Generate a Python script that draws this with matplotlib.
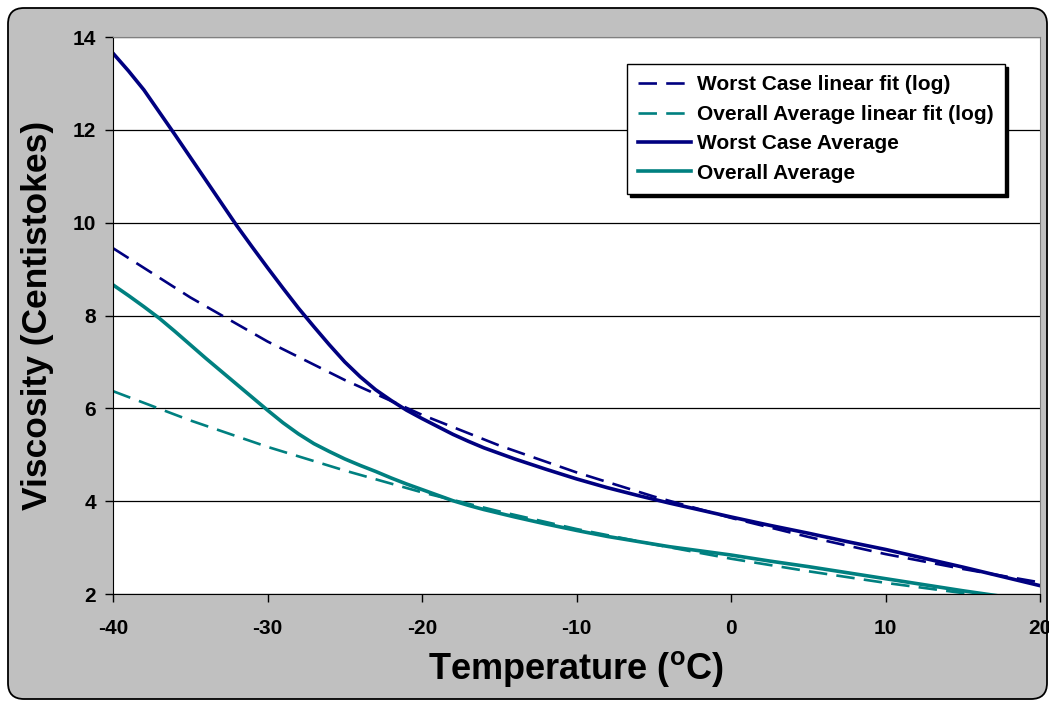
import matplotlib
matplotlib.use("Agg")
import matplotlib.pyplot as plt
from matplotlib.patches import FancyBboxPatch
from matplotlib.transforms import IdentityTransform

plt.rcParams['font.family'] = ['Liberation Sans', 'DejaVu Sans']
plt.rcParams['font.weight'] = 'bold'
plt.rcParams['axes.unicode_minus'] = False

# temperatures (deg C) and viscosities (cSt)
worst_t = [-40, -39, -38, -37, -36, -35, -34, -33, -32, -31, -30, -29, -28,
           -27, -26, -25, -24, -23, -22, -21, -20, -19, -18, -17, -16, -14,
           -12, -10, -8, -6, -4, -2, 0, 2.5, 5, 7.5, 10, 12.5, 15, 17.5, 20]
worst_avg = [13.65, 13.27, 12.86, 12.38, 11.9, 11.41, 10.92, 10.43, 9.94, 9.48,
             9.03, 8.59, 8.16, 7.76, 7.37, 7.0, 6.68, 6.4, 6.17, 5.96, 5.78,
             5.61, 5.44, 5.29, 5.15, 4.91, 4.69, 4.48, 4.29, 4.12, 3.96, 3.81,
             3.66, 3.48, 3.31, 3.13, 2.96, 2.77, 2.58, 2.38, 2.18]

overall_t = [-40, -39, -38, -37, -36, -35, -34, -33, -32, -31, -30, -29, -28,
             -27, -26, -25, -24, -23, -22, -21, -20, -19, -18, -17, -16, -14,
             -12, -10, -8, -6, -4, -2, 0, 2.5, 5, 7.5, 10, 12.5, 15, 17.5, 20]
overall_avg = [8.66, 8.43, 8.19, 7.94, 7.66, 7.37, 7.08, 6.8, 6.52, 6.24, 5.96,
               5.69, 5.45, 5.24, 5.07, 4.91, 4.77, 4.64, 4.5, 4.37, 4.25, 4.13,
               4.01, 3.91, 3.82, 3.66, 3.51, 3.37, 3.24, 3.13, 3.02, 2.93, 2.84,
               2.71, 2.59, 2.46, 2.33, 2.2, 2.07, 1.95, 1.83]

fit_t = [-40, -35, -30, -25, -20, -15, -10, -5, 0, 5, 10, 15, 20]
worst_fit = [9.45, 8.39, 7.44, 6.61, 5.86, 5.20, 4.62, 4.10, 3.64, 3.23,
             2.86, 2.54, 2.25]
overall_fit = [6.37, 5.74, 5.17, 4.66, 4.19, 3.78, 3.40, 3.07, 2.76, 2.49,
               2.24, 2.02, 1.82]

navy = '#000080'
teal = '#008080'

fig = plt.figure(figsize=(10.49, 7.02), dpi=100, facecolor='white')

# rounded grey chart area like the spreadsheet frame
frame = FancyBboxPatch((8, 3), 1039, 691, boxstyle='round,pad=0,rounding_size=16',
                       transform=IdentityTransform(), facecolor='#C0C0C0',
                       edgecolor='black', linewidth=1.3, zorder=-10)
fig.patches.append(frame)

ax = fig.add_axes([113 / 1049, 108 / 702, 927 / 1049, 557 / 702])
ax.set_facecolor('white')

l1, = ax.plot(fit_t, worst_fit, color=navy, lw=1.9, label='Worst Case linear fit (log)')
l2, = ax.plot(fit_t, overall_fit, color=teal, lw=1.9, label='Overall Average linear fit (log)')
for ln in (l1, l2):
    ln.set_dashes((7, 3.5))
ax.plot(worst_t, worst_avg, color=navy, lw=2.6, label='Worst Case Average')
ax.plot(overall_t, overall_avg, color=teal, lw=2.6, label='Overall Average')

ax.set_xlim(-40, 20)
ax.set_ylim(2, 14)
ax.set_xticks(range(-40, 21, 10))
ax.set_yticks(range(2, 15, 2))
ax.yaxis.grid(True, color='black', lw=0.9)
ax.set_axisbelow(True)

for s in ('top', 'right'):
    ax.spines[s].set_color('#808080')
for s in ('left', 'bottom'):
    ax.spines[s].set_color('black')
ax.tick_params(direction='out', length=6, width=1, labelsize=15, colors='black')
ax.tick_params(axis='x', pad=12)
ax.tick_params(axis='y', pad=6)
for lab in ax.get_xticklabels() + ax.get_yticklabels():
    lab.set_fontweight('bold')

ax.set_xlabel(r'Temperature ($\mathregular{^o}$C)', fontsize=26, fontweight='bold', labelpad=8)
ax.set_ylabel('Viscosity (Centistokes)', fontsize=25.5, fontweight='bold', labelpad=14)

leg = ax.legend(loc='upper left', bbox_to_anchor=(627 / 1049, 1 - 64 / 702),
                bbox_transform=fig.transFigure, borderaxespad=0, fontsize=15,
                fancybox=False, edgecolor='black', framealpha=1,
                shadow={'color': 'black', 'alpha': 1},
                handlelength=2.5, handletextpad=0.3, labelspacing=0.5,
                borderpad=0.55)
leg.get_frame().set_linewidth(1.0)
for t in leg.get_texts():
    t.set_fontweight('bold')

fig.savefig('out.png', dpi=100, facecolor='white')
